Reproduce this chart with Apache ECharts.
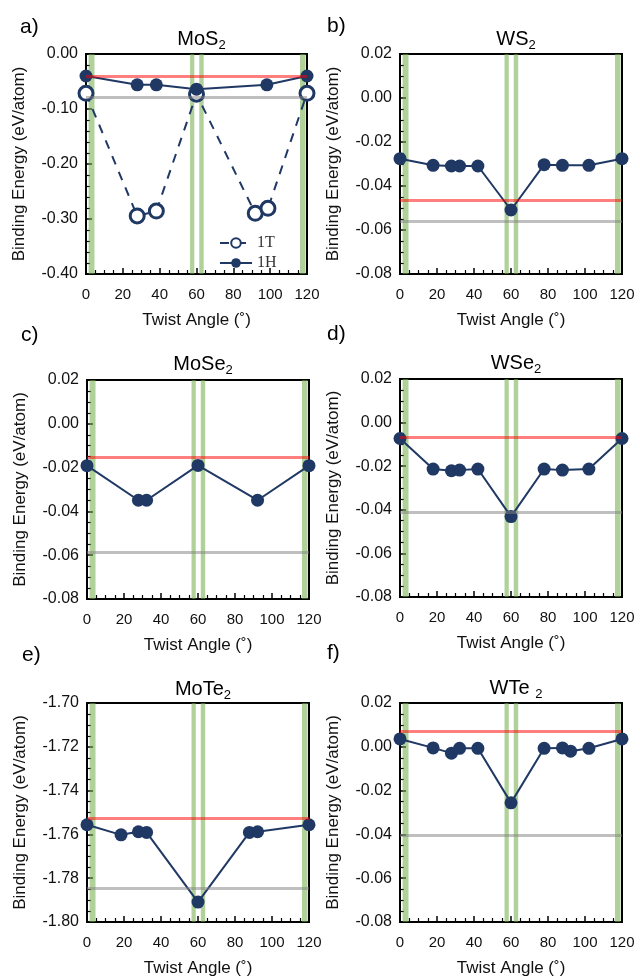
<!DOCTYPE html>
<html><head><meta charset="utf-8">
<script src="https://cdn.jsdelivr.net/npm/echarts@6/dist/echarts.min.js"></script>
<style>html,body{margin:0;padding:0;background:#fff}#c{width:640px;height:978px}</style>
</head><body><div id="c"></div>
<script>
// ---------- data ----------
const xTicks = [0, 20, 40, 60, 80, 100, 120];
const greenBands = [[1.4, 4.6], [56.5, 58.8], [61.5, 63.9], [116.2, 119.2]];

const mos2_T_x = [0, 27.8, 38.2, 60, 91.9, 98.8, 120];
const mos2_T_y = [-0.0715, -0.2945, -0.2855, -0.073, -0.2897, -0.2806, -0.0715];
const mos2_H_x = [0, 27.8, 38.2, 60, 98.2, 120];
const mos2_H_y = [-0.040, -0.056, -0.056, -0.064, -0.056, -0.040];
const mos2_ref = [-0.040, -0.079];

const ws2_x = [0, 17.9, 27.8, 32.2, 42.1, 60, 77.9, 87.8, 102.1, 120];
const ws2_y = [-0.0276, -0.0306, -0.0309, -0.0309, -0.0309, -0.0509, -0.0303, -0.0306, -0.0306, -0.0276];
const ws2_ref = [-0.0465, -0.056];

const mose2_x = [0, 27.8, 32.2, 60, 92.2, 120];
const mose2_y = [-0.0191, -0.0349, -0.0349, -0.0190, -0.0349, -0.0191];
const mose2_ref = [-0.0151, -0.0586];

const wse2_x = [0, 17.9, 27.8, 32.2, 42.1, 60, 77.9, 87.8, 102.1, 120];
const wse2_y = [-0.0073, -0.0213, -0.0221, -0.0218, -0.0213, -0.0431, -0.0213, -0.0218, -0.0213, -0.0073];
const wse2_ref = [-0.0069, -0.0413];

const mote2_x = [0, 18.4, 27.8, 32.2, 60, 87.8, 92.2, 120];
const mote2_y = [-1.7556, -1.7602, -1.7588, -1.7591, -1.7909, -1.7591, -1.7588, -1.7556];
const mote2_ref = [-1.7526, -1.7845];

const wte2_x = [0, 17.9, 27.8, 32.2, 42.1, 60, 77.9, 87.8, 92.2, 102.1, 120];
const wte2_y = [0.0036, -0.0005, -0.0029, -0.0007, -0.0007, -0.0256, -0.0007, -0.0005, -0.0020, -0.0007, 0.0036];
const wte2_ref = [0.0071, -0.0405];

const yMinA = -0.40, yMaxA = 0.00, yIntA = 0.10;
const yMinStd = -0.08, yMaxStd = 0.02, yIntStd = 0.02;
const yMinE = -1.80, yMaxE = -1.70, yIntE = 0.02;

// ---------- layout ----------
const NAVY = '#1f3864';
const FONT = 'Liberation Sans';
const zip = (xs, ys) => xs.map((x, i) => [x, ys[i]]);

const panels = [
  {label: 'a)', title: '{n|MoS}{s|2}', grid: [86, 54, 221, 220], y: [yMinA, yMaxA, yIntA], minor: 5, ref: mos2_ref,
   series: [{name: '1T', data: zip(mos2_T_x, mos2_T_y), open: true}, {name: '1H', data: zip(mos2_H_x, mos2_H_y)}],
   lab: [15, 12], tt: 22},
  {label: 'b)', title: '{n|WS}{s|2}', grid: [400, 54, 222, 220], y: [yMinStd, yMaxStd, yIntStd], minor: 4, ref: ws2_ref,
   series: [{name: 'WS2', data: zip(ws2_x, ws2_y)}], lab: [322, 11], tt: 22},
  {label: 'c)', title: '{n|MoSe}{s|2}', grid: [87, 380, 222, 219], y: [yMinStd, yMaxStd, yIntStd], minor: 4, ref: mose2_ref,
   series: [{name: 'MoSe2', data: zip(mose2_x, mose2_y)}], lab: [16, 320], tt: 347},
  {label: 'd)', title: '{n|WSe}{s|2}', grid: [400, 379, 222, 218], y: [yMinStd, yMaxStd, yIntStd], minor: 4, ref: wse2_ref,
   series: [{name: 'WSe2', data: zip(wse2_x, wse2_y)}], lab: [322, 319], tt: 346},
  {label: 'e)', title: '{n|MoTe}{s|2}', grid: [87, 703, 222, 220], y: [yMinE, yMaxE, yIntE], minor: 4, ref: mote2_ref,
   series: [{name: 'MoTe2', data: zip(mote2_x, mote2_y)}], lab: [17, 640], tt: 672},
  {label: 'f)', title: '{n|WTe }{s|2}', grid: [400, 703, 222, 220], y: [yMinStd, yMaxStd, yIntStd], minor: 4, ref: wte2_ref,
   series: [{name: 'WTe2', data: zip(wte2_x, wte2_y)}], lab: [322, 638], tt: 671}
];

const option = {
  animation: false,
  backgroundColor: '#fff',
  textStyle: {fontFamily: FONT},
  title: [], grid: [], xAxis: [], yAxis: [], series: [],
  legend: {
    data: ['1T', '1H'], orient: 'vertical', left: 214, top: 230, itemWidth: 32, itemHeight: 12, itemGap: 4,
    textStyle: {fontFamily: 'Liberation Serif', fontSize: 16, color: '#333'}
  }
};

panels.forEach((p, i) => {
  const [l, t, w, h] = p.grid;
  option.grid.push({left: l, top: t, width: w, height: h, show: true, borderColor: '#000', borderWidth: 2, backgroundColor: 'transparent'});
  option.title.push({
    text: p.title, left: l + w / 2, top: p.tt, textAlign: 'center',
    textStyle: {fontWeight: 'normal', rich: {
      n: {fontSize: 20, color: '#000', fontFamily: FONT, fontWeight: 'normal'},
      s: {fontSize: 13, color: '#000', fontFamily: FONT, fontWeight: 'normal', padding: [12, 0, 0, 0]}
    }}
  });
  option.title.push({text: p.label, left: p.lab[0], top: p.lab[1], textStyle: {fontSize: 21, fontWeight: 'normal', color: '#000', fontFamily: FONT}});
  option.xAxis.push({
    gridIndex: i, type: 'value', min: xTicks[0], max: xTicks[xTicks.length - 1], interval: xTicks[1] - xTicks[0],
    axisLine: {onZero: false, lineStyle: {color: '#000', width: 2}},
    axisTick: {inside: true, length: 6, lineStyle: {color: '#000', width: 1.5}},
    minorTick: {show: true, splitNumber: 4, length: 4, lineStyle: {color: '#000', width: 1.2}},
    splitLine: {show: false},
    axisLabel: {color: '#111', fontSize: 15, margin: 13},
    name: 'Twist Angle (˚)', nameLocation: 'middle', nameGap: 38,
    nameTextStyle: {fontSize: 17, color: '#111'}
  });
  option.yAxis.push({
    gridIndex: i, type: 'value', min: p.y[0], max: p.y[1], interval: p.y[2],
    axisLine: {onZero: false, lineStyle: {color: '#000', width: 2}},
    axisTick: {inside: true, length: 6, lineStyle: {color: '#000', width: 1.5}},
    minorTick: {show: true, splitNumber: p.minor, length: 4, lineStyle: {color: '#000', width: 1.2}},
    splitLine: {show: false},
    axisLabel: {color: '#111', fontSize: 16, margin: 8, formatter: v => (Math.abs(v) < 1e-9 ? 0 : v).toFixed(2)},
    name: 'Binding Energy (eV/atom)', nameLocation: 'middle', nameGap: 58, nameRotate: 90,
    nameTextStyle: {fontSize: 17, color: '#111'}
  });
  // green bands
  option.series.push({
    type: 'line', xAxisIndex: i, yAxisIndex: i, data: [], z: 1, silent: true,
    markArea: {silent: true, itemStyle: {color: 'rgba(112,173,71,0.55)'}, data: greenBands.map(b => [{xAxis: b[0]}, {xAxis: b[1]}])}
  });
  // reference lines
  option.series.push({
    type: 'line', xAxisIndex: i, yAxisIndex: i, data: [], z: 2, silent: true,
    markLine: {silent: true, symbol: 'none', precision: 5, label: {show: false}, emphasis: {disabled: true},
      data: [
        {yAxis: p.ref[0], lineStyle: {color: 'rgba(255,0,0,0.5)', width: 3, type: 'solid'}},
        {yAxis: p.ref[1], lineStyle: {color: 'rgba(128,128,128,0.5)', width: 3, type: 'solid'}}
      ]}
  });
  p.series.forEach(s => {
    option.series.push({
      name: s.name, type: 'line', xAxisIndex: i, yAxisIndex: i, data: s.data,
      symbol: 'circle', symbolSize: s.open ? 14 : 13, z: s.open ? 3 : 4,
      itemStyle: s.open ? {color: '#fff', borderColor: NAVY, borderWidth: 3} : {color: NAVY},
      lineStyle: {color: NAVY, width: 2, type: s.open ? [9, 8] : 'solid'}
    });
  });
});

const chart = echarts.init(document.getElementById('c'), null, {renderer: 'canvas'});
chart.setOption(option);
</script></body></html>
